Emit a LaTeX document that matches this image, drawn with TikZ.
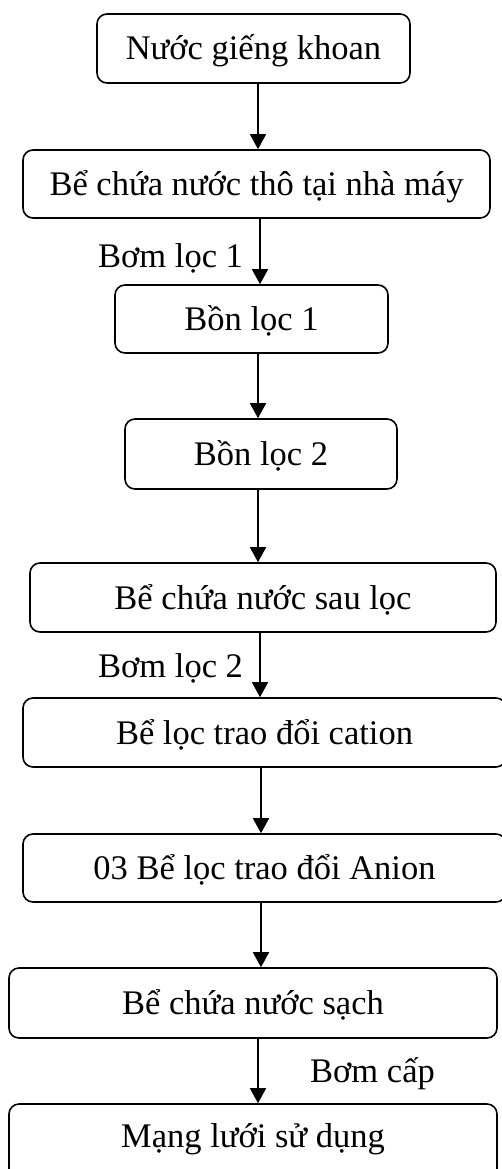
\documentclass[tikz,border=0pt]{standalone}
\usepackage{fontspec}
\setmainfont{Liberation Serif}
\usetikzlibrary{arrows.meta}

\begin{document}
\begin{tikzpicture}[x=1pt, y=-1pt,
  every node/.style={font=\fontsize{34.5}{40}\selectfont},
  stage/.style={draw, line width=1.6pt, rounded corners=10pt, inner sep=0pt,
    text height=31pt, text depth=8pt, align=center},
  flow/.style={line width=1.6pt, -{Triangle[width=16pt,length=15pt]}},
  pump/.style={inner sep=0pt, anchor=base west}]
  \useasboundingbox (0,0) rectangle (502,1169);
  \clip (0,0) rectangle (502,1169);

  % process stages, top to bottom
  \node[stage, minimum width=313pt, minimum height=69pt] (n1) at (253.5,48.5) {Nước giếng khoan};
  \node[stage, minimum width=467pt, minimum height=68pt] (n2) at (256.5,184) {Bể chứa nước thô tại nhà máy};
  \node[stage, minimum width=273pt, minimum height=68pt] (n3) at (251.5,319) {Bồn lọc 1};
  \node[stage, minimum width=272pt, minimum height=70pt] (n4) at (261,454) {Bồn lọc 2};
  \node[stage, minimum width=466pt, minimum height=69pt] (n5) at (263,597.5) {Bể chứa nước sau lọc};
  \node[stage, minimum width=483pt, minimum height=69pt] (n6) at (264.5,732.5) {Bể lọc trao đổi cation};
  \node[stage, minimum width=483pt, minimum height=68pt] (n7) at (264.5,868) {03 Bể lọc trao đổi Anion};
  \node[stage, minimum width=488pt, minimum height=70pt] (n8) at (253,1003) {Bể chứa nước sạch};
  \node[stage, minimum width=488pt, minimum height=90pt, text depth=35pt] (n9) at (253,1149) {Mạng lưới sử dụng};

  % columns of the connecting arrows
  \coordinate (xa) at (258,0);
  \coordinate (xb) at (260,0);
  \coordinate (xc) at (261,0);

  \draw[flow] (n1.south -| xa) -- (n2.north -| xa);
  \draw[flow] (n2.south -| xb) -- (n3.north -| xb);
  \draw[flow] (n3.south -| xa) -- (n4.north -| xa);
  \draw[flow] (n4.south -| xa) -- (n5.north -| xa);
  \draw[flow] (n5.south -| xb) -- (n6.north -| xb);
  \draw[flow] (n6.south -| xc) -- (n7.north -| xc);
  \draw[flow] (n7.south -| xc) -- (n8.north -| xc);
  \draw[flow] (n8.south -| xa) -- (n9.north -| xa);

  % pump labels
  \node[pump] (p1) at (98,267) {Bơm lọc 1};
  \node[pump] (p2) at (98,677) {Bơm lọc 2};
  \node[pump] (p3) at (310,1082) {Bơm cấp};
\end{tikzpicture}
\end{document}
